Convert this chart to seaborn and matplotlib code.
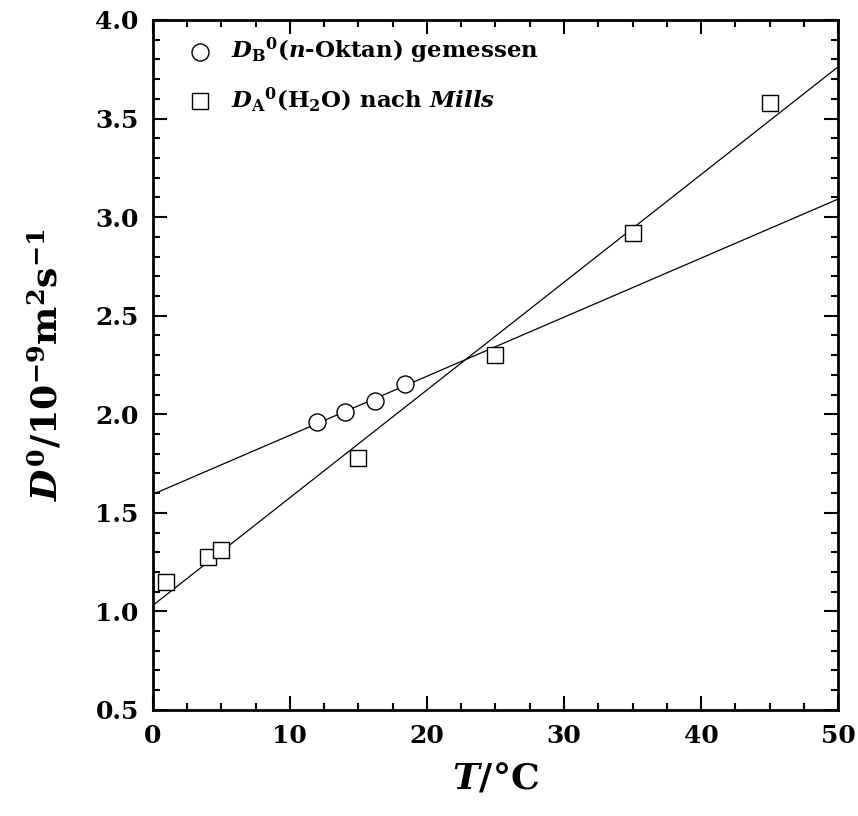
import numpy as np
import pandas as pd
import seaborn as sns
import matplotlib.pyplot as plt
from matplotlib.ticker import MultipleLocator

# data
t_oktan = [12.0, 14.0, 16.2, 18.4]
d_oktan = [1.96, 2.01, 2.065, 2.155]
t_wasser = [1.0, 4.0, 5.0, 15.0, 25.0, 35.0, 45.0]
d_wasser = [1.15, 1.275, 1.31, 1.78, 2.30, 2.92, 3.58]

oktan = pd.DataFrame({"T": t_oktan, "D": d_oktan})
wasser = pd.DataFrame({"T": t_wasser, "D": d_wasser})

sns.set_style("ticks", {"axes.edgecolor": "black", "text.color": "black",
                        "xtick.color": "black", "ytick.color": "black",
                        "axes.labelcolor": "black"})
plt.rcParams["font.family"] = ["DejaVu Serif"]
plt.rcParams["font.weight"] = "bold"
plt.rcParams["mathtext.fontset"] = "custom"
plt.rcParams["mathtext.rm"] = "DejaVu Serif:bold"
plt.rcParams["mathtext.it"] = "DejaVu Serif:bold:italic"
plt.rcParams["mathtext.bf"] = "DejaVu Serif:bold"

fig = plt.figure(figsize=(8.58, 8.16), dpi=100)
ax = fig.add_axes([0.178, 0.130, 0.799, 0.8455])
ax.set_xlim(0, 50)
ax.set_ylim(0.5, 4.0)

# fit lines across the whole axis
sns.regplot(data=oktan, x="T", y="D", ax=ax, scatter=False, ci=None,
            truncate=False, line_kws={"color": "black", "lw": 0.9})
sns.regplot(data=wasser, x="T", y="D", ax=ax, scatter=False, ci=None,
            truncate=False, line_kws={"color": "black", "lw": 0.9})

sns.scatterplot(data=oktan, x="T", y="D", ax=ax, marker="o", s=150,
                facecolor="white", edgecolor="black", linewidth=1.0, zorder=3,
                label=r"$D_\mathrm{B}{}^{0}$($n$-Oktan) gemessen")
sns.scatterplot(data=wasser, x="T", y="D", ax=ax, marker="s", s=120,
                facecolor="white", edgecolor="black", linewidth=1.0, zorder=3,
                label=r"$D_\mathrm{A}{}^{0}$(H$_2$O) nach $Mills$")

ax.set_xlim(0, 50)
ax.set_ylim(0.5, 4.0)
ax.xaxis.set_major_locator(MultipleLocator(10))
ax.xaxis.set_minor_locator(MultipleLocator(2.5))
ax.yaxis.set_major_locator(MultipleLocator(0.5))
ax.yaxis.set_minor_locator(MultipleLocator(0.1))
ax.tick_params(which="both", direction="in", top=True, right=True,
               labelsize=18, width=1.5, pad=10)
ax.tick_params(which="major", length=10)
ax.tick_params(which="minor", length=5)
for sp in ax.spines.values():
    sp.set_linewidth(2)
for lab in ax.get_xticklabels() + ax.get_yticklabels():
    lab.set_fontweight("bold")

ax.set_xlabel(r"$T$/°C", fontsize=26, fontweight="bold", labelpad=10)
ax.set_ylabel(r"$D^0$/10$^{-9}$m$^2$s$^{-1}$", fontsize=26,
              fontweight="bold", labelpad=22)

ax.legend(loc="upper left", bbox_to_anchor=(0.037, 0.984), frameon=False,
          fontsize=16.5, handletextpad=0.6, borderaxespad=0, borderpad=0.2,
          labelspacing=0.85, handlelength=1.5)

fig.savefig("out.png", dpi=100)
